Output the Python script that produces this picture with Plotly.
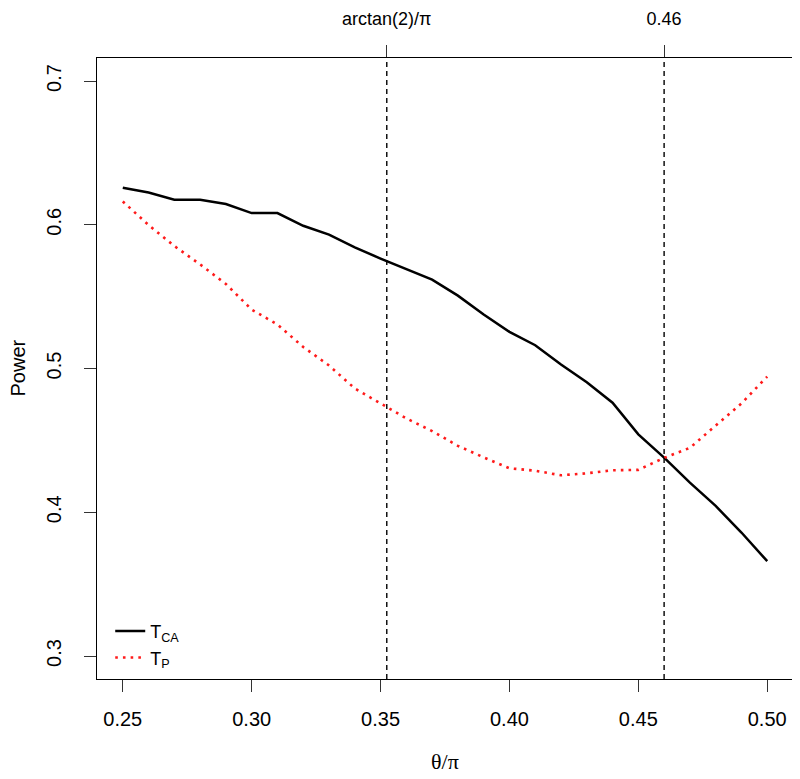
import math
import plotly.graph_objects as go

theta = [0.25, 0.26, 0.27, 0.28, 0.29, 0.30, 0.31, 0.32, 0.33, 0.34, 0.35, 0.36, 0.37,
         0.38, 0.39, 0.40, 0.41, 0.42, 0.43, 0.44, 0.45, 0.46, 0.47, 0.48, 0.49, 0.50]
t_ca = [0.6257, 0.6224, 0.6174, 0.6174, 0.6144, 0.6081, 0.6081, 0.5993, 0.5931, 0.5842,
        0.5765, 0.5694, 0.5618, 0.5507, 0.5375, 0.5255, 0.5162, 0.5028, 0.4905, 0.4762,
        0.4542, 0.4380, 0.4206, 0.4044, 0.3859, 0.3660]
t_p = [0.6162, 0.5998, 0.5852, 0.5724, 0.5588, 0.5410, 0.5306, 0.5150, 0.5021, 0.4861,
       0.4757, 0.4653, 0.4565, 0.4462, 0.4382, 0.4306, 0.4289, 0.4257, 0.4271, 0.4292,
       0.4295, 0.4378, 0.4448, 0.4601, 0.4757, 0.4944]

x_ticks = [0.25, 0.30, 0.35, 0.40, 0.45, 0.50]
x_ticklabels = ["0.25", "0.30", "0.35", "0.40", "0.45", "0.50"]
y_ticks = [0.3, 0.4, 0.5, 0.6, 0.7]
y_ticklabels = ["0.3", "0.4", "0.5", "0.6", "0.7"]
ref_lines = [math.atan(2) / math.pi, 0.46]
ref_labels = ["arctan(2)/π", "0.46"]

FONT = "Liberation Sans, Arial, Helvetica, sans-serif"

fig = go.Figure()
fig.add_trace(go.Scatter(x=theta, y=t_ca, mode="lines", name="T<sub>CA</sub>",
                         line=dict(color="black", width=2.5)))
fig.add_trace(go.Scatter(x=theta, y=t_p, mode="lines", name="T<sub>P</sub>",
                         line=dict(color="#ff1a1a", width=2.6, dash="2.6px,5.1px")))
# invisible trace to activate the top axis
fig.add_trace(go.Scatter(x=ref_lines, y=[0.5, 0.5], xaxis="x2", showlegend=False,
                         hoverinfo="skip", mode="markers", marker=dict(opacity=0)))

for xv in ref_lines:
    fig.add_shape(type="line", xref="x", yref="paper", x0=xv, x1=xv, y0=0, y1=1,
                  line=dict(color="black", width=1.4, dash="5px,4px"))

fig.update_layout(
    width=792, height=771,
    margin=dict(l=89, r=7, t=50, b=100),
    paper_bgcolor="white", plot_bgcolor="white",
    font=dict(family=FONT, size=20, color="black"),
    showlegend=True,
    legend=dict(x=0.019, y=0.005, xanchor="left", yanchor="bottom",
                bgcolor="rgba(0,0,0,0)", font=dict(size=18),
                itemwidth=30, tracegroupgap=0),
    xaxis=dict(range=[0.24, 0.51], tickvals=x_ticks, ticktext=x_ticklabels,
               showgrid=False, zeroline=False, showline=True, mirror=True,
               linecolor="black", linewidth=1.2, ticks="outside", ticklen=12,
               tickcolor="#333", tickwidth=1.2, tickfont=dict(size=20),
               automargin=False, ticklabelstandoff=10),
    xaxis2=dict(range=[0.24, 0.51], overlaying="x", side="top", tickvals=ref_lines,
                ticktext=ref_labels, showgrid=False, zeroline=False, showline=False,
                ticks="outside", ticklen=12, tickcolor="#333", tickwidth=1.2,
                automargin=False, ticklabelstandoff=13,
                tickfont=dict(size=18)),
    yaxis=dict(range=[0.284, 0.716], tickvals=y_ticks, ticktext=y_ticklabels,
               showgrid=False, zeroline=False, showline=True, mirror=True,
               linecolor="black", linewidth=1.2, ticks="outside", ticklen=12,
               tickcolor="#333", tickwidth=1.2, tickangle=-90, tickfont=dict(size=20),
               automargin=False, ticklabelstandoff=15),
    annotations=[
        dict(text="θ/π", xref="paper", yref="paper", x=0.5, y=0, yshift=-82,
             showarrow=False, xanchor="center", yanchor="middle",
             font=dict(family="Liberation Serif, Times New Roman, serif", size=22)),
        dict(text="Power", xref="paper", yref="paper", x=0, xshift=-80, y=0.5,
             showarrow=False, textangle=-90, xanchor="center", yanchor="middle",
             font=dict(size=20)),
    ],
)

fig.write_html("out.html")
